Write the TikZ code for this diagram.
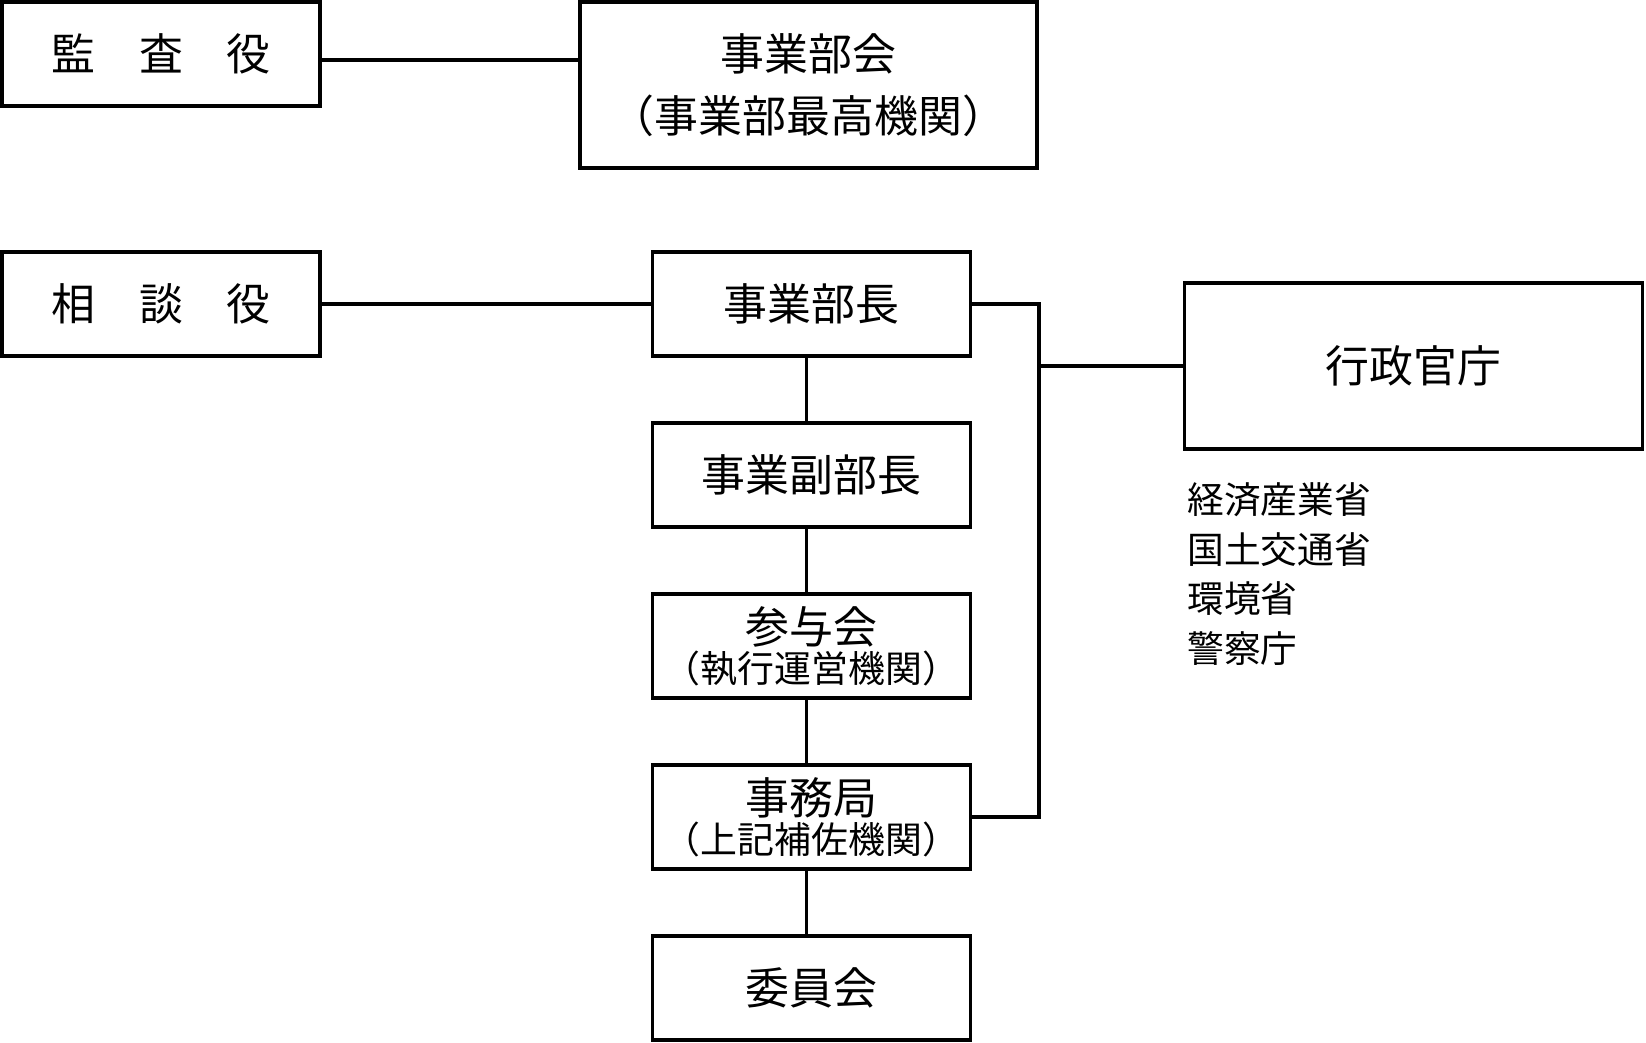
\documentclass[tikz,border=0pt]{standalone}
\usepackage{fontspec}
\setmainfont{Noto Sans CJK JP}
\usetikzlibrary{positioning}

\newcommand{\bigfont}{\fontsize{25}{30}\selectfont}
\newcommand{\smallfont}{\fontsize{21}{25}\selectfont}
\newcommand{\listfont}{\fontsize{20.9}{28.4}\selectfont}

\tikzset{
  orgbox/.style={draw, rectangle, line width=2.2pt, minimum width=6.36cm, minimum height=2.08cm, align=center, inner sep=0pt, font=\bigfont},
  bigbox/.style={orgbox, minimum width=9.16cm, minimum height=3.32cm},
  conn/.style={line width=1.8pt}
}

\begin{document}
\begin{tikzpicture}[x=0.02cm, y=-0.02cm]
  \useasboundingbox (0,0) rectangle (1646,1042);

  \node (kansa) [orgbox] at (161,54) {監　査　役};
  \node (bukai) [bigbox, minimum width=9.14cm] at (808.5,85) {事業部会\\[5pt]（事業部最高機関）};
  \node (soudan) [orgbox] at (161,304) {相　談　役};
  \node (buchou) [orgbox] at (811.5,304) {事業部長};
  \node (fukubuchou) [orgbox] at (811.5,475) {事業副部長};
  \node (sanyokai) [orgbox] at (811.5,646) {参与会\\[-8pt]\smallfont （執行運営機関）};
  \node (jimukyoku) [orgbox] at (811.5,817) {事務局\\[-8pt]\smallfont （上記補佐機関）};
  \node (iinkai) [orgbox] at (811.5,988) {委員会};
  \node (gyosei) [bigbox] at (1413.5,366) {行政官庁};
  \node (shocho) [anchor=west, align=left, inner sep=0pt, font=\listfont] at (1187,574) {経済産業省\\国土交通省\\環境省\\警察庁};

  \coordinate (bend) at (1039,366);

  \draw[conn] ([yshift=-0.12cm]kansa.east) -- ([yshift=-0.12cm]kansa.east -| bukai.west);
  \draw[conn] (soudan) -- (buchou);
  \draw[conn] ([xshift=-0.1cm]buchou.south) -- ([xshift=-0.1cm]fukubuchou.north);
  \draw[conn] ([xshift=-0.1cm]fukubuchou.south) -- ([xshift=-0.1cm]sanyokai.north);
  \draw[conn] ([xshift=-0.1cm]sanyokai.south) -- ([xshift=-0.1cm]jimukyoku.north);
  \draw[conn] ([xshift=-0.1cm]jimukyoku.south) -- ([xshift=-0.1cm]iinkai.north);
  \draw[conn] (buchou.east) -- (buchou.east -| bend) -- (bend |- jimukyoku.east) -- (jimukyoku.east);
  \draw[conn] (bend) -- (gyosei);
\end{tikzpicture}
\end{document}
